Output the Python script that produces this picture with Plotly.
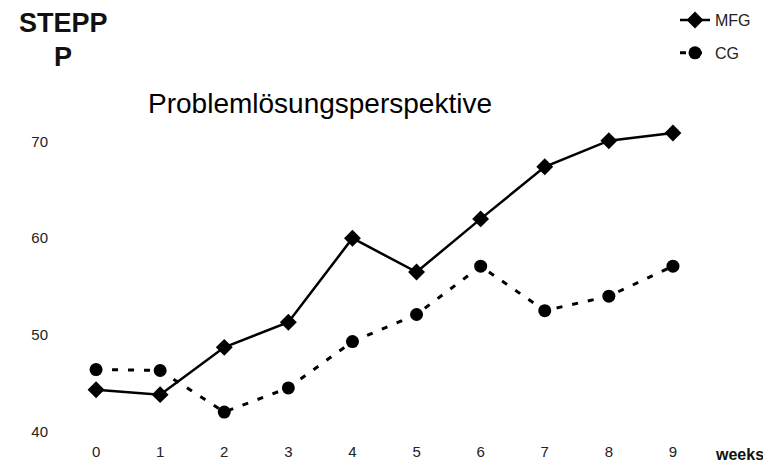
import plotly.graph_objects as go

weeks = [0, 1, 2, 3, 4, 5, 6, 7, 8, 9]
mfg = [44.3, 43.8, 48.7, 51.3, 60.0, 56.5, 62.0, 67.4, 70.1, 70.9]
cg = [46.4, 46.3, 42.0, 44.5, 49.3, 52.1, 57.1, 52.5, 54.0, 57.1]
y_ticks = [40, 50, 60, 70]
title_text = "Problemlösungsperspektive"

FONT = "Liberation Sans, Arial, sans-serif"
# page body has an 8px margin, so the figure is drawn 8px smaller
W, H = 763, 458
L, R, T, B = 56, 66, 124, 24.6
PW, PH = W - L - R, H - T - B


def px(x):
    return (x - L) / PW


def py(y):
    return (H - B - y) / PH


fig = go.Figure()
fig.add_trace(go.Scatter(
    x=weeks, y=mfg, name="MFG", mode="lines+markers",
    line=dict(color="black", width=2.5),
    marker=dict(symbol="diamond", size=13, color="black"),
    legendgroup="a", cliponaxis=False,
))
fig.add_trace(go.Scatter(
    x=weeks, y=cg, name="CG", mode="lines+markers",
    line=dict(color="black", width=3, dash="6px,10px"),
    marker=dict(symbol="circle", size=13, color="black"),
    legendgroup="b", cliponaxis=False,
))

fig.update_layout(
    width=W, height=H,
    margin=dict(l=L, r=R, t=T, b=B, autoexpand=False),
    paper_bgcolor="white", plot_bgcolor="white",
    font=dict(family=FONT, color="#222"),
    showlegend=True,
    legend=dict(
        x=px(667), y=py(-5), xanchor="left", yanchor="top",
        font=dict(size=16, color="#222"),
        tracegroupgap=9, bgcolor="rgba(0,0,0,0)",
    ),
    title=dict(
        text=title_text, x=312 / W, xanchor="center", y=1 - 95 / H, yanchor="middle",
        font=dict(size=28, color="black", family=FONT),
    ),
    xaxis=dict(
        range=[-0.5, 9.5], tickmode="array", tickvals=weeks,
        ticktext=[str(w) for w in weeks], automargin=False,
        showgrid=False, zeroline=False, showline=False,
        ticks="",
        tickfont=dict(size=15, color="#222"),
    ),
    yaxis=dict(
        range=[39, 71], tickmode="array", tickvals=y_ticks, automargin=False,
        showgrid=False, zeroline=False, showline=False,
        ticks="outside", ticklen=12, tickcolor="white",
        tickfont=dict(size=15, color="#222"),
    ),
    annotations=[
        dict(text="<b>STEPP</b>", xref="paper", yref="paper",
             x=px(55), y=py(15), xanchor="center", yanchor="middle",
             showarrow=False, font=dict(size=27, color="#111", family=FONT)),
        dict(text="<b>P</b>", xref="paper", yref="paper",
             x=px(55), y=py(49), xanchor="center", yanchor="middle",
             showarrow=False, font=dict(size=27, color="#111", family=FONT)),
        dict(text="<b>weeks</b>", xref="paper", yref="paper",
             x=px(731), y=py(447), xanchor="center", yanchor="middle",
             showarrow=False, font=dict(size=16, color="#111", family=FONT)),
    ],
)

fig.write_html("out.html")
